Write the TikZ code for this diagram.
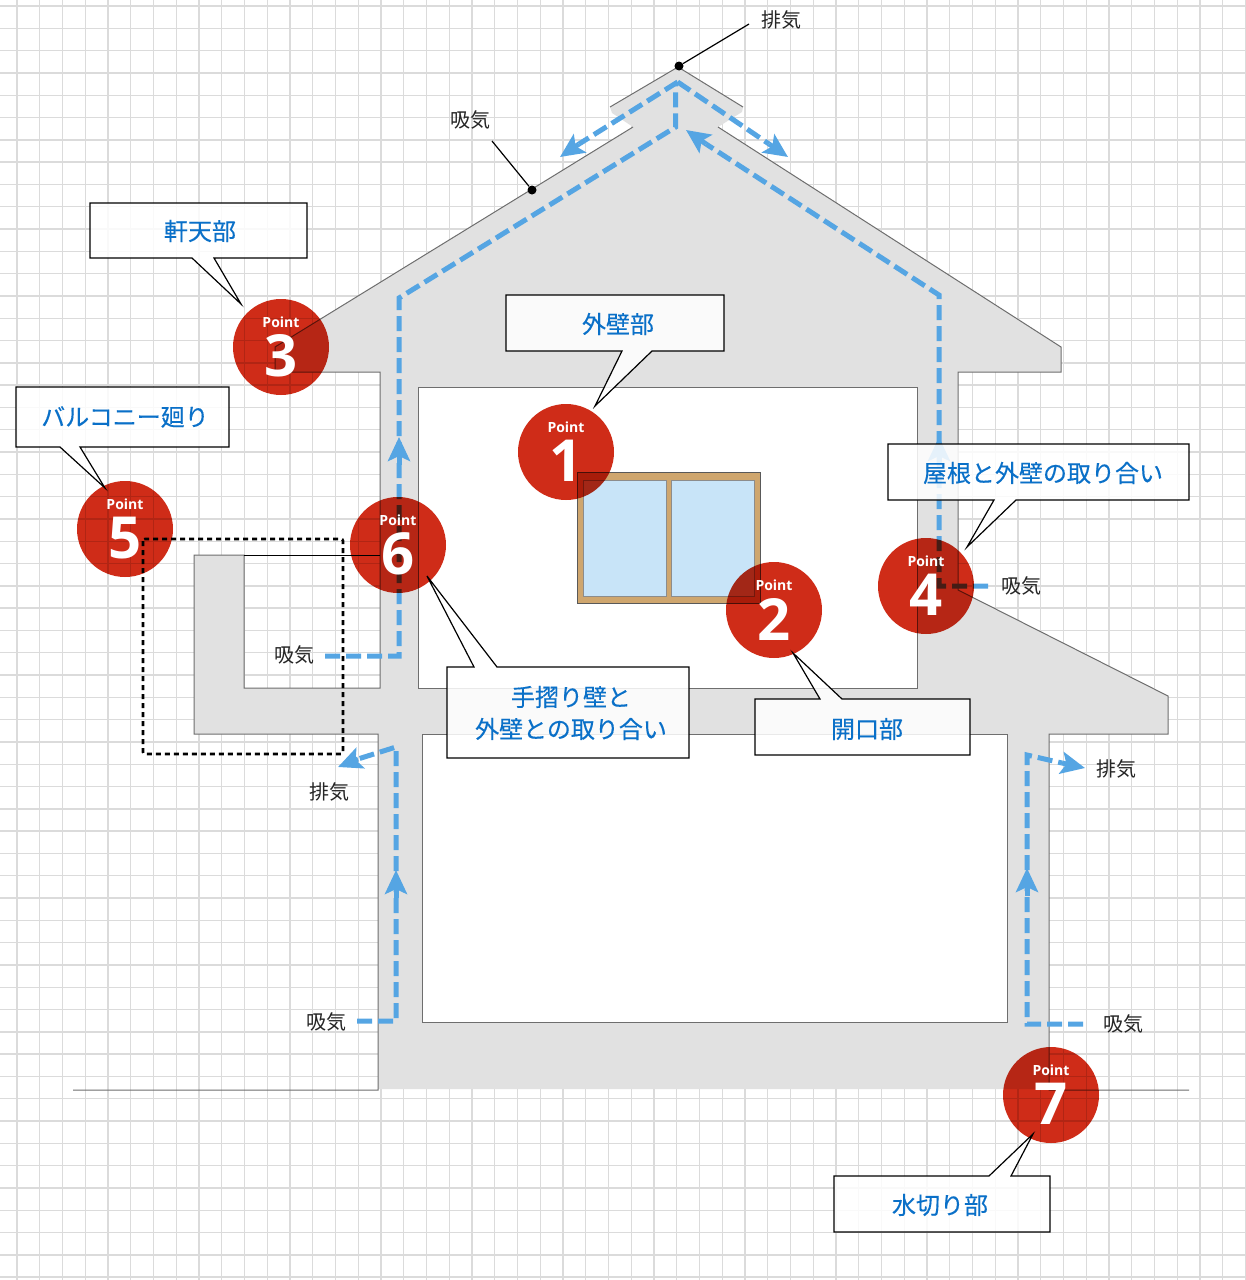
\documentclass[tikz,border=0pt]{standalone}
\usepackage{fontspec}
\setmainfont{Noto Sans CJK JP}
\newfontfamily\jpfont{Noto Sans CJK JP}
\newfontfamily\jpheavy[FakeBold=0.3]{Noto Sans CJK JP}
\newfontfamily\ptfont{Open Sans}
\usetikzlibrary{arrows.meta,calc}
\definecolor{gridc}{HTML}{DBDBDB}
\definecolor{wallc}{HTML}{E1E1E1}
\definecolor{edgec}{HTML}{6E6E6E}
\definecolor{flowc}{HTML}{55A5E3}
\definecolor{tagc}{HTML}{0A70C8}
\definecolor{discc}{HTML}{CF2C18}
\definecolor{framec}{HTML}{CFA66E}
\definecolor{glassc}{HTML}{C8E4F8}
\tikzset{
  gridline/.style={draw=gridc,line width=1.4pt},
  edge/.style={draw=edgec,line width=1pt},
  flow/.style={draw=flowc,line width=5pt,dash pattern=on 15pt off 6pt},
  headtip/.style={-{Stealth[length=24pt,width=22pt,inset=5pt,color=flowc]}},
  flowhead/.style={draw=flowc,line width=5pt,headtip},
  tag/.style={fill=white,fill opacity=.85,draw=black,line width=1.2pt,line join=miter},
  tagtext/.style={text=tagc,font=\jpheavy\fontsize{24}{32}\selectfont,align=center,inner sep=0pt},
  note/.style={text=black!85,font=\jpfont\fontsize{20}{24}\selectfont,inner sep=0pt},
  disc/.style={circle,fill=discc,minimum size=96pt,inner sep=0pt,draw=none},
  ptword/.style={text=white,font=\ptfont\bfseries\fontsize{14}{14}\selectfont,inner sep=0pt},
  ptnum/.style={text=white,font=\ptfont\bfseries\fontsize{58}{58}\selectfont,inner sep=0pt},
  leader/.style={draw=black,line width=1.2pt},
  dotmark/.style={circle,fill=black,minimum size=9pt,inner sep=0pt},
  dots/.style={draw=black,line width=2.7pt,dash pattern=on 5pt off 4pt,rounded corners=2pt},
}
\begin{document}
\begin{tikzpicture}[x=1pt,y=-1pt]
\useasboundingbox (0,0) rectangle (1246,1280);
\fill[white] (0,0) rectangle (1246,1280);
% grid paper
\foreach \k in {0,...,54} \draw[gridline] ({17+22.75*\k},0) -- ({17+22.75*\k},1280);
\foreach \k in {0,...,57} \draw[gridline] (0,{6+22.3*\k}) -- (1246,{6+22.3*\k});
% building body
\fill[wallc] (678,67) -- (743,107) -- (742,112) -- (718,127) -- (1061,347) -- (1061,372) -- (958,372) -- (958,590)
  -- (1168,696) -- (1168,734) -- (1049,734) -- (1049,1089) -- (378,1089) -- (378,734) -- (194,734) -- (194,555)
  -- (244,555) -- (244,688) -- (380,688) -- (380,372) -- (275,372) -- (275,347) -- (633,127) -- (612,113) -- (610,107) -- cycle;
\draw[edge] (610,107) -- (678,67) -- (743,107);
\draw[edge] (633,127) -- (275,347) -- (275,372) -- (380,372) -- (380,688) -- (244,688) -- (244,555) -- (194,555) -- (194,734) -- (378,734) -- (378,1090) -- (73,1090);
\draw[edge] (718,127) -- (1061,347) -- (1061,372) -- (958,372) -- (958,590) -- (1168,696) -- (1168,734) -- (1049,734) -- (1049,1090) -- (1189,1090);
\draw[draw=black,line width=1pt] (244,555) -- (380,555);
% rooms
\filldraw[fill=white,draw=edgec,line width=1pt] (418,387) rectangle (917,688);
\filldraw[fill=white,draw=edgec,line width=1pt] (422,734) rectangle (1007,1022);
% window
\filldraw[fill=framec,draw=black!65,line width=1pt] (577,472) rectangle (760,603);
\filldraw[fill=glassc,draw=black!45,line width=1pt] (583,480) rectangle (666,596);
\filldraw[fill=glassc,draw=black!45,line width=1pt] (671,480) rectangle (754,596);
% flow coordinates
\coordinate (inA) at (325,656);
\coordinate (cA1) at (399,656);
\coordinate (cA2) at (399,298);
\coordinate (cA3) at (675.7,127);
\coordinate (peak) at (675.7,84);
\coordinate (ventL) at (579,144);
\coordinate (tipL) at (560,157);
\coordinate (ventR) at (769,144);
\coordinate (tipR) at (788,157);
\coordinate (inB) at (988,586);
\coordinate (cB1) at (939,586);
\coordinate (cB2) at (939,295);
\coordinate (backB) at (706,144);
\coordinate (tipB) at (686,130);
\coordinate (inC) at (357,1021);
\coordinate (cC1) at (396,1021);
\coordinate (cC2) at (396,747);
\coordinate (backC) at (358,759);
\coordinate (tipC) at (338,767);
\coordinate (inD) at (1083,1024);
\coordinate (cD1) at (1027,1024);
\coordinate (cD2) at (1027,755);
\coordinate (backD) at (1062,763);
\coordinate (tipD) at (1085,768);
% flows
\draw[flow] (inA) -- (cA1) -- (cA2) -- (cA3) -- (peak);
\draw[flow] (peak) ++(2,-2) -- (ventL);
\draw[flow] (peak) ++(2,-2) -- (ventR);
\draw[flow] (inB) -- (cB1) -- (cB2) -- (backB);
\draw[flow] (inC) -- (cC1) -- (cC2) -- (backC);
\draw[flow] (inD) -- (cD1) -- (cD2) -- (backD);
% arrowheads
\path[flowhead] (ventL) -- (tipL);
\path[flowhead] (ventR) -- (tipR);
\path[flowhead] (backB) -- (tipB);
\path[flowhead] (backC) -- (tipC);
\path[flowhead] (backD) -- (tipD);
\path[flowhead] (399,465) -- (399,437);
\path[flowhead] (939,465) -- (939,437);
\path[flowhead] (396,898) -- (396,870);
\path[flowhead] (1027,896) -- (1027,868);
% balcony marker
\draw[dots] (143,539) rectangle (343,754);
% airflow labels and leaders
\node[note] (ex1) at (781,20) {排気};
\node[note] (in1) at (470,120) {吸気};
\node[note] (in2) at (294,655) {吸気};
\node[note] (ex2) at (329,792) {排気};
\node[note] (in3) at (326,1022) {吸気};
\node[note] (in4) at (1021,586) {吸気};
\node[note] (ex3) at (1116,769) {排気};
\node[note] (in5) at (1123,1024) {吸気};
\node[dotmark] (d1) at (679,66) {};
\node[dotmark] (d2) at (532,190) {};
\coordinate (l1) at (749,24);
\coordinate (l2) at (492,141);
\draw[leader] (d1) -- (l1);
\draw[leader] (d2) -- (l2);
% callouts
\draw[tag] (506,295) -- (724,295) -- (724,351) -- (652,351) -- (595,406) -- (622,351) -- (506,351) -- cycle;
\draw[tag] (755,699) -- (820,699) -- (793,653) -- (842,699) -- (970,699) -- (970,755) -- (755,755) -- cycle;
\draw[tag] (90,203) -- (307,203) -- (307,258) -- (214,258) -- (241,304) -- (192,258) -- (90,258) -- cycle;
\draw[tag] (16,387) -- (229,387) -- (229,447) -- (80,447) -- (105,488) -- (60,447) -- (16,447) -- cycle;
\draw[tag] (888,444) -- (1189,444) -- (1189,500) -- (1016,500) -- (967,547) -- (994,500) -- (888,500) -- cycle;
\draw[tag] (447,667) -- (474,667) -- (427,576) -- (497,667) -- (689,667) -- (689,758) -- (447,758) -- cycle;
\draw[tag] (834,1176) -- (989,1176) -- (1033,1134) -- (1011,1176) -- (1050,1176) -- (1050,1232) -- (834,1232) -- cycle;
\node[tagtext] (t1) at (618,324) {外壁部};
\node[tagtext] (t2) at (867,729) {開口部};
\node[tagtext] (t3) at (200,231) {軒天部};
\node[tagtext] (t4) at (125,417) {バルコニー廻り};
\node[tagtext] (t5) at (1043,473) {屋根と外壁の取り合い};
\node[tagtext] (t6) at (571,713) {手摺り壁と\\外壁との取り合い};
\node[tagtext] (t7) at (940,1205) {水切り部};
% point discs
\begin{scope}[blend mode=multiply]
\node[disc] (p1) at (566,452) {};
\node[disc] (p2) at (774,610) {};
\node[disc] (p3) at (281,347) {};
\node[disc] (p4) at (926,586) {};
\node[disc] (p5) at (125,529) {};
\node[disc] (p6) at (398,545) {};
\node[disc] (p7) at (1051,1095) {};
\end{scope}
\foreach \n/\d in {p1/1,p2/2,p3/3,p4/4,p5/5,p6/6,p7/7}{
  \node[ptword] (w\d) at ($(\n)+(0,-25)$) {Point};
  \node[ptnum] (n\d) at ($(\n)+(0,9)$) {\d};
}
\end{tikzpicture}
\end{document}
